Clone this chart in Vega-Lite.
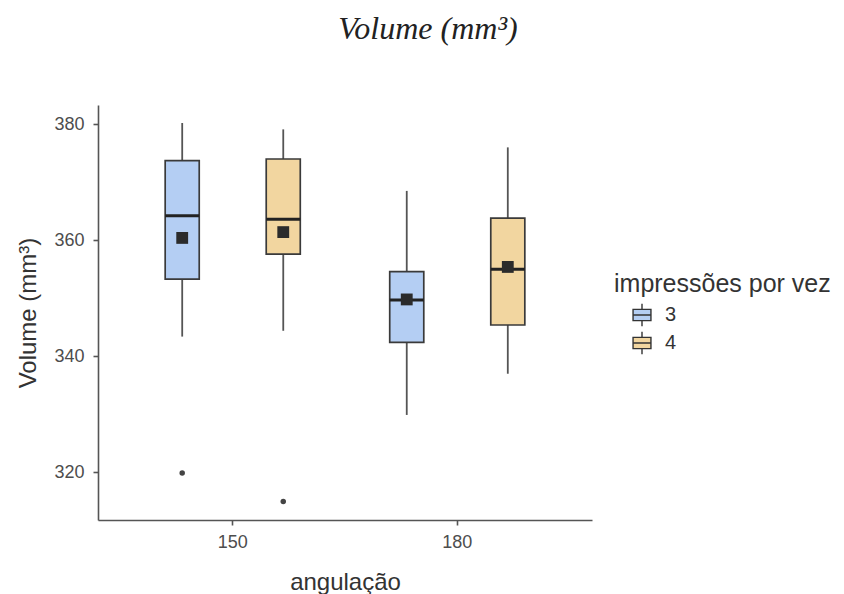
{
  "$schema": "https://vega.github.io/schema/vega-lite/v6.json",
  "width": 494,
  "height": 415,
  "autosize": "none",
  "padding": {"left": 98, "top": 105, "right": 252, "bottom": 74},
  "background": "white",
  "title": {
    "text": "Volume (mm³)",
    "font": "Liberation Serif",
    "fontStyle": "italic",
    "fontWeight": "normal",
    "fontSize": 32,
    "color": "#222222",
    "anchor": "middle",
    "frame": "group",
    "dx": 83,
    "offset": 59
  },
  "datasets": {
    "boxes": [
      {"angulacao": "150", "imp": "3", "lo": 343.4, "q1": 353.3, "med": 364.2, "q3": 373.7, "hi": 380.2, "mean": 360.4},
      {"angulacao": "150", "imp": "4", "lo": 344.4, "q1": 357.6, "med": 363.6, "q3": 374.0, "hi": 379.1, "mean": 361.4},
      {"angulacao": "180", "imp": "3", "lo": 329.9, "q1": 342.4, "med": 349.7, "q3": 354.6, "hi": 368.5, "mean": 349.8},
      {"angulacao": "180", "imp": "4", "lo": 337.0, "q1": 345.4, "med": 355.0, "q3": 363.8, "hi": 376.0, "mean": 355.4}
    ],
    "outliers": [
      {"angulacao": "150", "imp": "3", "value": 319.9},
      {"angulacao": "150", "imp": "4", "value": 315.0}
    ]
  },
  "config": {
    "view": {"stroke": null},
    "font": "Liberation Sans",
    "axis": {
      "grid": false,
      "domainColor": "#555555",
      "domainWidth": 1.6,
      "tickColor": "#555555",
      "tickWidth": 1.6,
      "tickSize": 5,
      "labelFont": "Liberation Sans",
      "labelFontSize": 18,
      "labelColor": "#4d4d4d",
      "titleFont": "Liberation Sans",
      "titleFontSize": 24,
      "titleFontWeight": "normal",
      "titleColor": "#333333"
    }
  },
  "layer": [
    {
      "data": {"name": "boxes"},
      "mark": {"type": "rule", "color": "#555555", "strokeWidth": 1.8},
      "encoding": {
        "x": {
          "field": "angulacao", "type": "nominal", "sort": ["150", "180"],
          "scale": {"paddingInner": 0.1, "paddingOuter": 0.15},
          "axis": {"title": "angulação", "labelAngle": 0, "labelPadding": 8, "titleX": 247, "titleY": 69, "titleBaseline": "alphabetic"}
        },
        "xOffset": {"field": "imp", "type": "nominal", "sort": ["3", "4"], "scale": {"paddingInner": 0.663, "paddingOuter": 0.3315}},
        "y": {
          "field": "lo", "type": "quantitative",
          "scale": {"domain": [311.8, 383.3], "nice": false, "zero": false},
          "axis": {"title": "Volume (mm³)", "values": [320, 340, 360, 380], "labelPadding": 9, "titleX": -63, "titleY": 207.5, "titleAngle": -90, "titleBaseline": "alphabetic", "titleAlign": "center"}
        },
        "y2": {"field": "hi"}
      }
    },
    {
      "data": {"name": "boxes"},
      "mark": {"type": "bar", "stroke": "#3a3a3a", "strokeWidth": 1.7},
      "encoding": {
        "x": {"field": "angulacao", "type": "nominal", "sort": ["150", "180"]},
        "xOffset": {"field": "imp", "type": "nominal", "sort": ["3", "4"]},
        "y": {"field": "q1", "type": "quantitative"},
        "y2": {"field": "q3"},
        "fill": {
          "field": "imp", "type": "nominal",
          "scale": {"domain": ["3", "4"], "range": ["#b4cef3", "#f2d6a0"]},
          "legend": {
            "title": "impressões por vez",
            "orient": "none",
            "legendX": 516,
            "legendY": 167,
            "titleFont": "Liberation Sans",
            "titleFontSize": 25,
            "titleFontWeight": "normal",
            "titleColor": "#333333",
            "titleLimit": 400,
            "titlePadding": 6,
            "labelFont": "Liberation Sans",
            "labelFontSize": 20,
            "labelColor": "#333333",
            "labelLimit": 200,
            "labelOffset": 11,
            "symbolOffset": 16,
            "symbolType": "M-0.8,-0.5H0.8V0.5H-0.8Z M-0.8,0H0.8 M0,-0.5V-1 M0,0.5V1",
            "symbolSize": 500,
            "symbolStrokeColor": "#333333",
            "symbolStrokeWidth": 1.4,
            "symbolOpacity": 1,
            "rowPadding": 0
          }
        }
      }
    },
    {
      "data": {"name": "boxes"},
      "mark": {"type": "tick", "color": "#222222", "thickness": 3, "size": 34, "opacity": 1},
      "encoding": {
        "x": {"field": "angulacao", "type": "nominal", "sort": ["150", "180"]},
        "xOffset": {"field": "imp", "type": "nominal", "sort": ["3", "4"]},
        "y": {"field": "med", "type": "quantitative"}
      }
    },
    {
      "data": {"name": "boxes"},
      "mark": {"type": "point", "shape": "square", "filled": true, "size": 140, "color": "#2b2b2b", "opacity": 1},
      "encoding": {
        "x": {"field": "angulacao", "type": "nominal", "sort": ["150", "180"]},
        "xOffset": {"field": "imp", "type": "nominal", "sort": ["3", "4"]},
        "y": {"field": "mean", "type": "quantitative"}
      }
    },
    {
      "data": {"name": "outliers"},
      "mark": {"type": "point", "shape": "circle", "filled": true, "size": 30, "color": "#444444", "opacity": 1},
      "encoding": {
        "x": {"field": "angulacao", "type": "nominal", "sort": ["150", "180"]},
        "xOffset": {"field": "imp", "type": "nominal", "sort": ["3", "4"]},
        "y": {"field": "value", "type": "quantitative"}
      }
    }
  ]
}
